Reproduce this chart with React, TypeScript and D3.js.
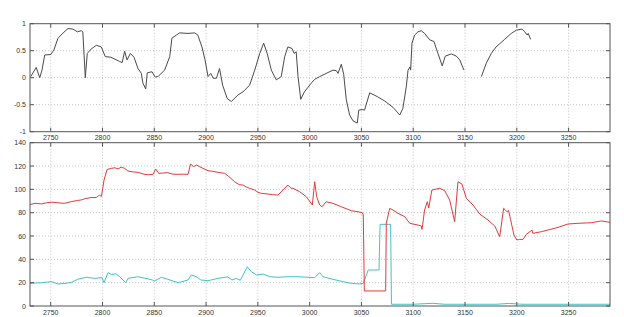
import React from "react";
import * as d3 from "d3";

const xTicks = [2750, 2800, 2850, 2900, 2950, 3000, 3050, 3100, 3150, 3200, 3250];
const topYTicks = [-1, -0.5, 0, 0.5, 1];
const botYTicks = [0, 20, 40, 60, 80, 100, 120, 140];

// top series (NaN marks gap)
const topX = [2730.7,2736,2739.4,2741.6,2744.2,2750,2753,2757,2762,2766.7,2771.5,2775.7,2779.5,2781,2783.4,2785.3,2789,2794,2798.8,2802.7,2808,2816.6,2819,2821.4,2823.7,2826.9,2830.4,2834.3,2837.5,2839,2841.7,2843.2,2847.8,2851,2854,2860,2864.9,2867,2871.3,2874.5,2882.6,2889,2892,2896,2899,2901.9,2904.5,2907,2910,2913,2916,2920.5,2924.4,2930.8,2935.7,2942,2947,2951.8,2955.6,2959,2963,2967.8,2972.6,2975.9,2979,2983,2985,2987,2988.8,2991.4,2995,3001.6,3004.8,3009.7,3016,3022.5,3025.8,3027.4,3030.6,3032.9,3035.4,3038.6,3041.9,3046,3047.4,3050.6,3053,3058,3065.3,3072.4,3080.5,3087,3090,3093.3,3095,3096.9,3097.5,3098.8,3101.4,3104.6,3107.8,3111,3116,3120,3123.9,3128,3131,3136.8,3141.6,3144.9,3149,3157,3165.8,3170.6,3175.4,3180,3188.3,3194.7,3199.5,3205,3207.6,3210,3211,3213.4];
const topY = [0.02,0.19,0.0,0.14,0.42,0.43,0.51,0.73,0.83,0.91,0.9,0.85,0.87,0.85,0.0,0.45,0.53,0.6,0.57,0.39,0.38,0.3,0.28,0.49,0.33,0.45,0.38,0.17,0.08,-0.1,-0.21,0.09,0.11,0.01,0.03,0.14,0.39,0.73,0.79,0.83,0.82,0.83,0.79,0.57,0.33,0.02,0.08,-0.01,-0.01,0.17,-0.14,-0.39,-0.44,-0.32,-0.26,-0.14,0.14,0.45,0.64,0.45,0.14,-0.04,0.02,0.39,0.57,0.54,0.45,0.48,0.02,-0.4,-0.26,-0.1,-0.03,0.02,0.08,0.14,0.13,0.08,0.25,0.06,-0.41,-0.69,-0.8,-0.84,-0.6,-0.59,-0.6,-0.28,-0.35,-0.43,-0.55,-0.69,-0.57,-0.17,0.14,0.2,0.14,0.64,0.79,0.85,0.87,0.82,0.7,0.67,0.45,0.22,0.4,0.44,0.4,0.33,0.14,NaN,0.02,0.27,0.45,0.57,0.71,0.82,0.88,0.9,0.85,0.79,0.82,0.71];

const redX = [2730,2735,2741,2746,2751,2757,2763,2770,2776,2780,2783,2789,2794,2797,2799,2801.5,2804.4,2808.5,2812,2815,2818,2821.4,2824.6,2829,2834.3,2840,2844,2848.8,2851.3,2854.3,2858,2863,2868,2873,2878,2882.6,2885,2888,2890.6,2893.8,2897,2901.9,2906,2911.5,2918,2922,2927.6,2932,2935.7,2939,2942,2947,2950,2953.4,2959.8,2964,2969.4,2974.3,2979,2982,2984,2990.4,2996.8,3002.6,3004.9,3006.8,3009.7,3012,3016,3022.5,3030.6,3040.2,3046.7,3050.9,3051.8,3052.8,3073.4,3074,3077.3,3080.5,3085.3,3091.8,3096.6,3104.6,3107.8,3108.5,3111,3113.6,3115,3118,3125.6,3130.4,3135.2,3140,3143.2,3147,3151.3,3157.7,3164.2,3172.2,3178.7,3183.5,3187.3,3190.6,3192,3194,3197.3,3200,3202.8,3206,3209.2,3214.7,3215.5,3223.7,3230,3239.8,3249.4,3259,3272,3281.6,3290];
const redY = [87,88,87.5,88.5,89,88.5,88,89.5,90.5,91,92,93,93,95,94,108,117,118,118.5,117.5,119,118,115.7,115,114.6,113,112.5,112.9,117.5,113.7,114,114.3,113,112.9,113,112.9,121.7,119.5,120.9,119.5,118,116,115.5,114.6,113.7,111,106.5,104,103.7,102,100.9,99.4,97.5,96.6,96,95.5,95.1,99.4,103.7,101,100.9,98,93.7,86.6,106.5,93.7,86.6,85.1,89.4,88,85.1,81.7,80.8,80,78,12.9,12.9,70.9,83.7,82.3,79.4,76.6,70.9,69.4,68.6,65.7,82.3,89.4,84,99.4,100.9,98.9,90.9,72.3,106.5,104.6,92.3,86.6,78.9,73.7,68.6,59.4,83.7,80.8,82,74,60.8,56.6,57.1,57.1,61.4,65.1,62.3,63.7,65.1,67.4,70.3,70.9,71.4,72.9,71.7];

const cyanX = [2730,2741,2750.6,2757,2763.5,2770,2776,2784.4,2792.4,2799.5,2801.5,2805.3,2808.5,2813,2816.6,2822.4,2824.6,2834,2844,2850.4,2856.8,2863,2873,2882.6,2885.7,2890.6,2895,2901.9,2911.5,2921,2925,2929.2,2933,2939.8,2943.7,2948.5,2955,2961.6,2969.4,2979,2988.8,2998.3,3004.9,3009.7,3012.9,3022.5,3032,3040.2,3048,3051.8,3056.6,3067,3068,3078.2,3079,3100,3119,3130,3180,3193,3205,3290];
const cyanY = [19.4,20,20.9,18.9,19.3,20.3,22.9,24.6,23.7,24.3,20,28.6,27,27.6,25.1,20,23.7,25.1,23.3,21.7,24.6,22.9,20,22.3,26.6,25.1,22.3,21.7,23.7,25,22.3,23.7,22,33.7,29.4,26.6,27.4,25.1,24.6,25.1,25.1,24.6,24.3,28.6,25.1,22.9,20.9,19.4,18.9,19.4,30.9,30.9,70,70,1.5,1.5,2.3,1.5,1.5,2.2,1.5,1.5];

const L = 30, R = 610;
const topT = 23.7, topB = 131.7;
const botT = 142.7, botB = 306;
const FONT = "'Liberation Sans', Arial, sans-serif";

function Panel({ yScale, yTicks, yFmt, top, bottom, xLabelY, children }: any) {
  const x = d3.scaleLinear().domain([2730, 3290]).range([L, R]);
  const tl = 4;
  return (
    <g>
      <rect x={L} y={top} width={R - L} height={bottom - top} fill="#fff" />
      {xTicks.map((t) => (
        <line key={"gx" + t} x1={x(t)} x2={x(t)} y1={top} y2={bottom} stroke="#b8b8b8" strokeWidth={0.8} strokeDasharray="1,2" />
      ))}
      {yTicks.slice(1, -1).map((t: number) => (
        <line key={"gy" + t} x1={L} x2={R} y1={yScale(t)} y2={yScale(t)} stroke="#b8b8b8" strokeWidth={0.8} strokeDasharray="1,2" />
      ))}
      {children(x)}
      {xTicks.map((t) => (
        <g key={"tx" + t}>
          <line x1={x(t)} x2={x(t)} y1={top} y2={top + tl} stroke="#555" />
          <line x1={x(t)} x2={x(t)} y1={bottom} y2={bottom - tl} stroke="#555" />
          <text x={x(t)} y={xLabelY} fontSize={7} fill="#333" textAnchor="middle" dominantBaseline="central" fontFamily={FONT}>{t}</text>
        </g>
      ))}
      {yTicks.map((t: number) => (
        <g key={"ty" + t}>
          <line x1={L} x2={L + tl} y1={yScale(t)} y2={yScale(t)} stroke="#555" />
          <line x1={R} x2={R - tl} y1={yScale(t)} y2={yScale(t)} stroke="#555" />
          <text x={L - 4} y={yScale(t)} fontSize={7} fill="#333" textAnchor="end" dominantBaseline="central" fontFamily={FONT}>{yFmt(t)}</text>
        </g>
      ))}
      <rect x={L} y={top} width={R - L} height={bottom - top} fill="none" stroke="#555" strokeWidth={1} />
    </g>
  );
}

export default function App() {
  const yTop = d3.scaleLinear().domain([-1, 1]).range([topB, topT]);
  const yBot = d3.scaleLinear().domain([0, 140]).range([botB, botT]);
  const topData = topX.map((v, i) => [v, topY[i]] as [number, number]);
  const redData = redX.map((v, i) => [v, redY[i]] as [number, number]);
  const cyanData = cyanX.map((v, i) => [v, cyanY[i]] as [number, number]);
  return (
    <svg width={624} height={317} style={{ position: "absolute", left: 0, top: 0, background: "#fff" }}>
      <rect width={624} height={317} fill="#fff" />
      <Panel yScale={yTop} yTicks={topYTicks} yFmt={(t: number) => String(t)} top={topT} bottom={topB} xLabelY={137.5}>
        {(x: any) => {
          const line = d3.line<[number, number]>().defined((d) => !isNaN(d[1])).x((d) => x(d[0])).y((d) => yTop(d[1]));
          return <path d={line(topData) || ""} fill="none" stroke="#4a4a4a" strokeWidth={1} />;
        }}
      </Panel>
      <Panel yScale={yBot} yTicks={botYTicks} yFmt={(t: number) => String(t)} top={botT} bottom={botB} xLabelY={312.5}>
        {(x: any) => {
          const line = d3.line<[number, number]>().x((d) => x(d[0])).y((d) => yBot(d[1]));
          return (
            <g>
              <path d={line(cyanData) || ""} fill="none" stroke="#40c4c4" strokeWidth={1} />
              <path d={line(redData) || ""} fill="none" stroke="#e23a3a" strokeWidth={1} />
            </g>
          );
        }}
      </Panel>
    </svg>
  );
}
